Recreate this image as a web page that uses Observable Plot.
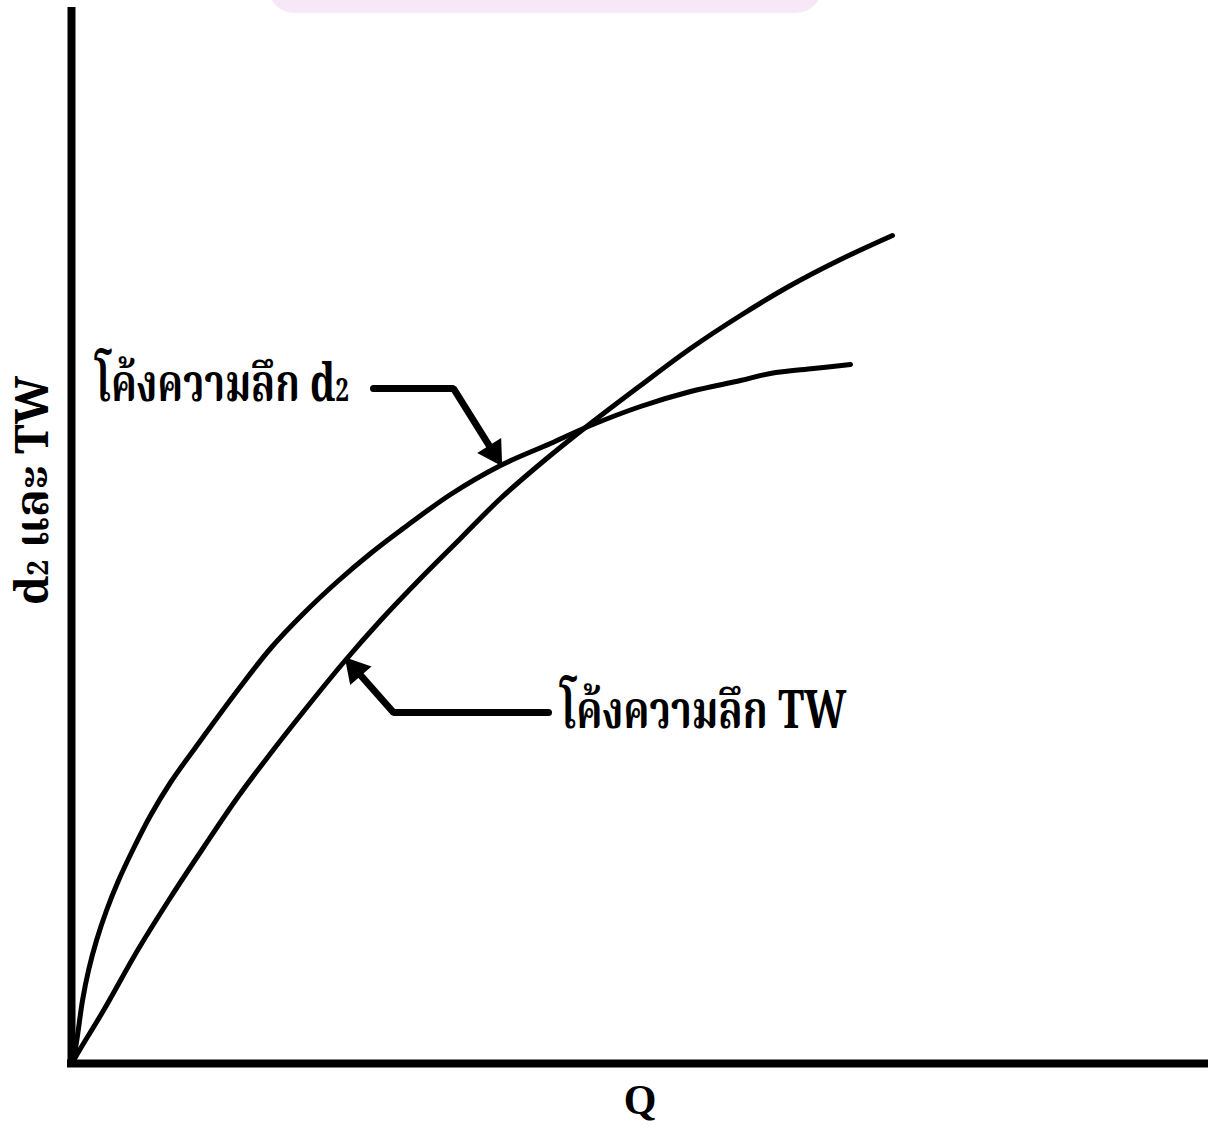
<!DOCTYPE html>
<html><head><meta charset="utf-8">
<script src="https://cdn.jsdelivr.net/npm/d3@7"></script>
<script src="https://cdn.jsdelivr.net/npm/@observablehq/plot@0.6"></script>
<style>
body{margin:0;background:#fff;}
#wrap{position:relative;width:1208px;height:1138px;overflow:hidden;}
#tab{position:absolute;left:268px;top:-40px;width:554px;height:53px;border-radius:30px;background:linear-gradient(#efe1f3,#f9e8f7);z-index:2;}
</style></head><body><div id="wrap"><div id="tab"></div></div>
<script>
// Curve d2 (depth curve d2): discharge Q vs value
const qD2 =     [0.02,0.06,0.11,0.17,0.25,0.35,0.47,0.62,0.79,0.99,1.32,1.66,1.99,2.32,2.66,2.99,3.29,3.79,4.29,4.79,5.19,5.69,6.19,6.69,6.99,7.42,7.79];
const depthD2 = [0.03,0.28,0.63,0.93,1.23,1.53,1.83,2.15,2.48,2.81,3.27,3.73,4.15,4.50,4.82,5.10,5.33,5.69,5.98,6.20,6.38,6.57,6.72,6.83,6.90,6.95,6.99];
// Curve TW (tailwater depth)
const qTW =     [0.02,0.09,0.32,0.66,0.99,1.32,1.66,1.99,2.32,2.72,3.09,3.49,3.89,4.29,4.74,5.19,5.69,6.19,6.69,7.19,7.69,8.21];
const depthTW = [0.03,0.15,0.53,1.13,1.66,2.16,2.66,3.10,3.52,4.01,4.43,4.85,5.25,5.65,6.04,6.40,6.78,7.15,7.48,7.78,8.04,8.28];

const qMax = 11.37, vMax = 10.56;

const labelD2 = "โค้งความลึก d2";
const labelTW = "โค้งความลึก TW";
const yTitle = "d2 และ TW";
const xTitle = "Q";

// leader lines (data units): label -> curve
const leaderD2Q = [3.02, 3.82, 4.22];
const leaderD2V = [6.75, 6.75, 6.11];
const leaderTWQ = [4.77, 3.22, 2.84];
const leaderTWV = [3.51, 3.51, 3.94];

const d2 = qD2.map((q,i)=>({q, v: depthD2[i]}));
const tw = qTW.map((q,i)=>({q, v: depthTW[i]}));
const ld2 = leaderD2Q.map((q,i)=>({q, v: leaderD2V[i]}));
const ltw = leaderTWQ.map((q,i)=>({q, v: leaderTWV[i]}));
const heads = [
  {q: leaderD2Q[2], v: leaderD2V[2], a: 148},
  {q: leaderTWQ[2], v: leaderTWV[2], a: -41}
];
const labels = [
  {q: 0.24, v: 6.63, t: labelD2, w: 255},
  {q: 4.89, v: 3.36, t: labelTW, w: 288}
];

const thaiFont = "'Noto Serif Thai','Noto Sans Thai','Garuda','Loma','Norasi','Liberation Serif',serif";

const chart = Plot.plot({
  width: 1208, height: 1138,
  marginLeft: 71, marginRight: 0, marginTop: 7, marginBottom: 75,
  x: {domain: [0, qMax], axis: null},
  y: {domain: [0, vMax], axis: null},
  style: {background: "transparent"},
  marks: [
    Plot.ruleX([0], {y1: 0, y2: vMax, stroke: "black", strokeWidth: 8}),
    Plot.ruleY([0], {x1: -0.04, x2: qMax, stroke: "black", strokeWidth: 8}),
    Plot.line(d2, {x: "q", y: "v", curve: "catmull-rom", stroke: "black", strokeWidth: 5}),
    Plot.line(tw, {x: "q", y: "v", curve: "catmull-rom", stroke: "black", strokeWidth: 5}),
    Plot.line(ld2, {x: "q", y: "v", stroke: "black", strokeWidth: 7, strokeLinejoin: "miter"}),
    Plot.line(ltw, {x: "q", y: "v", stroke: "black", strokeWidth: 7, strokeLinejoin: "miter"}),
    Plot.dot(heads, {x: "q", y: "v", symbol: "triangle", r: 10.5, fill: "black", stroke: null, rotate: "a"}),
    Plot.text(labels, {x: "q", y: "v", text: "t", textAnchor: "start", lineAnchor: "bottom", fontSize: 52, fontWeight: "bold", fontFamily: thaiFont, fill: "black", className: "lbl"}),
    Plot.text([yTitle], {frameAnchor: "left", textAnchor: "middle", rotate: -90, dx: -38, dy: -45, fontSize: 46, fontWeight: "bold", fontFamily: thaiFont, fill: "black", className: "ytitle"}),
    Plot.text([xTitle], {frameAnchor: "bottom", dy: 50, fontSize: 42, fontWeight: "bold", fontFamily: "'Liberation Serif',serif", fill: "black"})
  ]
});

// small "2" in d2
const ns = "http://www.w3.org/2000/svg";
chart.querySelectorAll("text").forEach(t => {
  const s = t.textContent;
  const i = s.indexOf("d2");
  if (i < 0) return;
  t.textContent = "";
  const add = (str, size) => {
    if (!str) return;
    const ts = document.createElementNS(ns, "tspan");
    ts.textContent = str;
    if (size) ts.setAttribute("font-size", size);
    t.appendChild(ts);
  };
  add(s.slice(0, i + 1));
  add("2", "0.62em");
  add(s.slice(i + 2));
});

document.getElementById("wrap").appendChild(chart);

// condense texts horizontally to the reference widths
const squeeze = (t, target) => {
  const w = t.getBBox().width;
  if (!w) return;
  const s = target / w;
  t.setAttribute("transform", (t.getAttribute("transform") || "") + ` scale(${s.toFixed(3)},1)`);
};
chart.querySelectorAll("g.lbl text").forEach((t, k) => squeeze(t, labels[k].w));
chart.querySelectorAll("g.ytitle text").forEach(t => squeeze(t, 230));
</script>
</body></html>
